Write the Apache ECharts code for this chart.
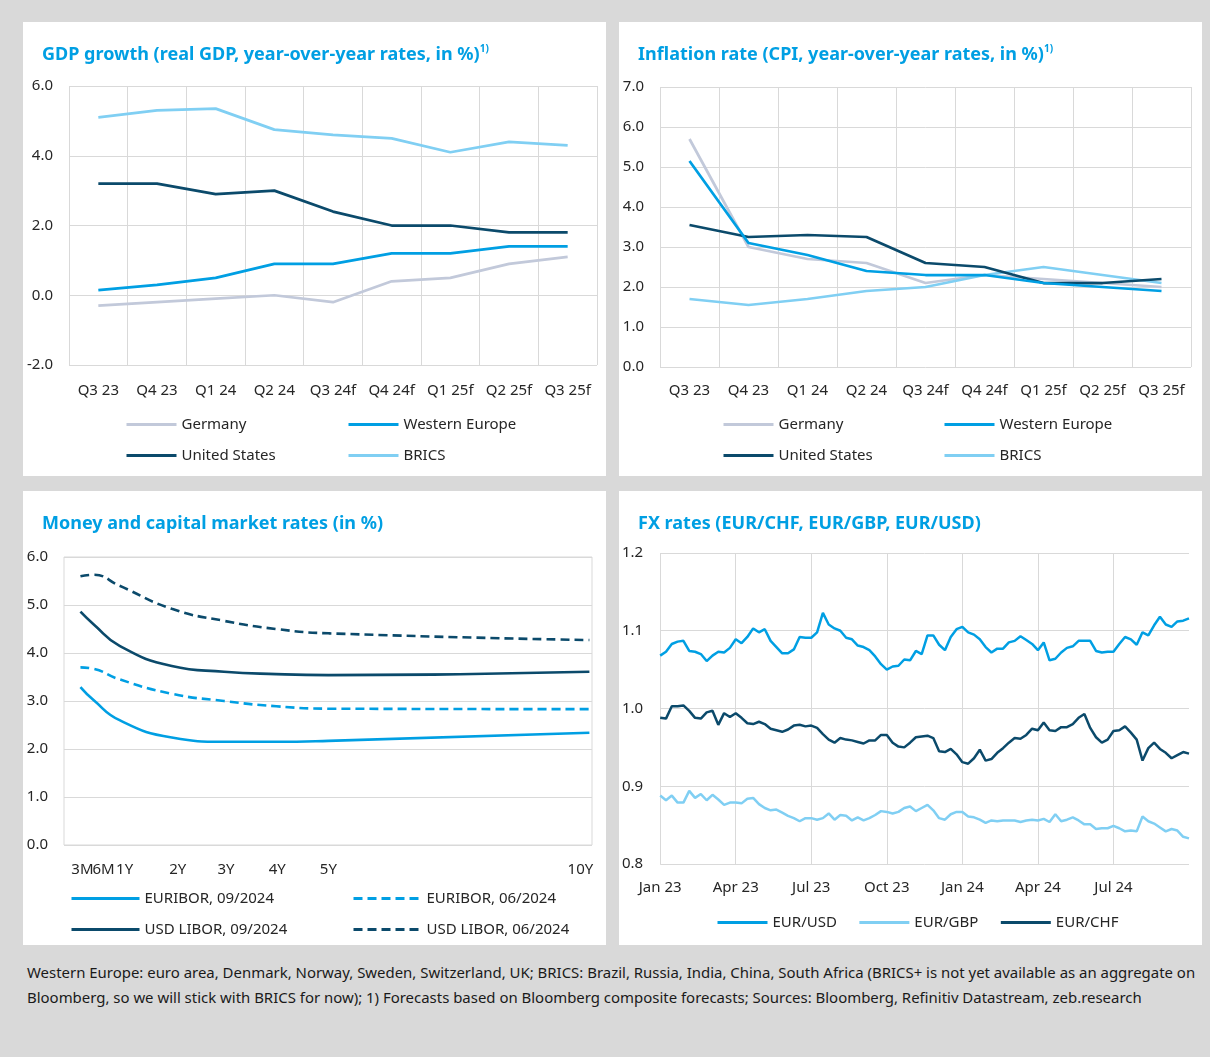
<!DOCTYPE html>
<html><head><meta charset="utf-8">
<script src="https://cdn.jsdelivr.net/npm/echarts@6.0.0/dist/echarts.min.js"></script>
<style>
html,body{margin:0;padding:0;background:#d9d9d9;width:1210px;height:1057px;overflow:hidden;}
.panel{position:absolute;background:#fff;width:583px;height:454px;}
#foot{position:absolute;left:27px;top:960px;font-family:'Noto Sans';font-size:14.95px;color:#1a1a1a;line-height:25px;white-space:nowrap;}
</style></head>
<body>
<div class="panel" id="p1" style="left:23px;top:22px;"></div>
<div class="panel" id="p2" style="left:619px;top:22px;"></div>
<div class="panel" id="p3" style="left:23px;top:491px;"></div>
<div class="panel" id="p4" style="left:619px;top:491px;"></div>
<div id="foot">Western Europe: euro area, Denmark, Norway, Sweden, Switzerland, UK; BRICS: Brazil, Russia, India, China, South Africa (BRICS+ is not yet available as an aggregate on<br>Bloomberg, so we will stick with BRICS for now); 1) Forecasts based on Bloomberg composite forecasts; Sources: Bloomberg, Refinitiv Datastream, zeb.research</div>
<script>
// ---------- DATA ----------
const quarterCategories = ['Q3 23','Q4 23','Q1 24','Q2 24','Q3 24f','Q4 24f','Q1 25f','Q2 25f','Q3 25f'];

const gdpGermany       = [-0.3,-0.2,-0.1,0.0,-0.2,0.4,0.5,0.9,1.1];
const gdpWesternEurope = [0.15,0.3,0.5,0.9,0.9,1.2,1.2,1.4,1.4];
const gdpUnitedStates  = [3.2,3.2,2.9,3.0,2.4,2.0,2.0,1.8,1.8];
const gdpBRICS         = [5.1,5.3,5.35,4.75,4.6,4.5,4.1,4.4,4.3];

const cpiGermany       = [5.7,3.0,2.7,2.6,2.1,2.3,2.2,2.1,2.0];
const cpiWesternEurope = [5.15,3.1,2.8,2.4,2.3,2.3,2.1,2.0,1.9];
const cpiUnitedStates  = [3.55,3.25,3.3,3.25,2.6,2.5,2.1,2.1,2.2];
const cpiBRICS         = [1.7,1.55,1.7,1.9,2.0,2.3,2.5,2.3,2.1];

const mmTenors      = [0.25,0.5,1,2,3,4,5,10];
const mmTenorLabels = ['3M','6M','1Y','2Y','3Y','4Y','5Y','10Y'];
const euribor092024  = [3.29,3.02,2.6,2.24,2.15,2.15,2.17,2.34];
const euribor062024  = [3.7,3.67,3.45,3.15,3.0,2.89,2.84,2.83];
const usdLibor092024 = [4.86,4.6,4.15,3.73,3.61,3.56,3.54,3.61];
const usdLibor062024 = [5.6,5.63,5.4,4.92,4.67,4.5,4.41,4.27];

const fxTickLabels = ['Jan 23','Apr 23','Jul 23','Oct 23','Jan 24','Apr 24','Jul 24'];
const fxStartDate = '2023-01-01'; // weekly observations
const fxEURUSD = [1.068,1.073,1.083,1.086,1.087,1.074,1.073,1.070,1.061,1.068,
  1.073,1.072,1.078,1.089,1.084,1.092,1.103,1.098,1.102,1.087,
  1.079,1.071,1.071,1.076,1.092,1.091,1.091,1.098,1.123,1.108,
  1.103,1.100,1.091,1.089,1.081,1.079,1.075,1.067,1.057,1.050,
  1.054,1.055,1.063,1.062,1.074,1.070,1.094,1.094,1.082,1.075,
  1.092,1.102,1.105,1.098,1.095,1.089,1.079,1.072,1.077,1.077,
  1.085,1.087,1.093,1.088,1.083,1.075,1.085,1.062,1.064,1.072,
  1.078,1.080,1.087,1.087,1.087,1.074,1.072,1.073,1.073,1.083,
  1.092,1.089,1.082,1.098,1.094,1.107,1.118,1.108,1.105,1.112,
  1.113,1.116];
const fxEURGBP = [0.888,0.882,0.888,0.879,0.879,0.894,0.885,0.890,0.882,0.889,
  0.883,0.876,0.879,0.879,0.878,0.884,0.885,0.877,0.872,0.869,
  0.870,0.866,0.862,0.859,0.855,0.859,0.859,0.857,0.859,0.865,
  0.857,0.863,0.862,0.856,0.860,0.856,0.859,0.863,0.868,0.867,
  0.865,0.867,0.872,0.874,0.868,0.872,0.876,0.869,0.859,0.857,
  0.864,0.867,0.867,0.861,0.860,0.857,0.853,0.856,0.855,0.856,
  0.856,0.856,0.854,0.856,0.857,0.856,0.858,0.854,0.864,0.855,
  0.857,0.860,0.856,0.851,0.851,0.845,0.846,0.846,0.849,0.846,
  0.842,0.843,0.842,0.861,0.855,0.852,0.847,0.842,0.845,0.843,
  0.835,0.833];
const fxEURCHF = [0.988,0.987,1.003,1.003,1.004,0.997,0.988,0.987,0.995,0.997,
  0.979,0.994,0.989,0.994,0.988,0.981,0.980,0.983,0.980,0.974,
  0.972,0.970,0.973,0.978,0.979,0.977,0.978,0.975,0.967,0.960,
  0.956,0.962,0.960,0.959,0.957,0.955,0.959,0.959,0.966,0.966,
  0.956,0.951,0.950,0.956,0.963,0.964,0.965,0.962,0.945,0.944,
  0.948,0.941,0.931,0.929,0.936,0.947,0.933,0.935,0.943,0.949,
  0.956,0.962,0.961,0.966,0.974,0.972,0.982,0.972,0.971,0.976,
  0.976,0.980,0.988,0.993,0.975,0.963,0.956,0.960,0.971,0.972,
  0.977,0.969,0.960,0.933,0.949,0.956,0.948,0.943,0.936,0.940,
  0.944,0.942];

// weekly date categories
const fxDates = [];
{
  const s = new Date(fxStartDate + 'T00:00:00Z');
  for (let i = 0; i < fxEURUSD.length; i++) {
    const d = new Date(s.getTime() + i * 7 * 86400000);
    fxDates.push(d.toISOString().slice(0, 10));
  }
}

// ---------- STYLE ----------
const FONT = 'Noto Sans';
const BLUE = '#009fe3';
const DARK = '#0b4a6b';
const LIGHT = '#80cff3';
const GREYBLUE = '#c2c9da';
const GRID = '#d9d9d9';
const TXT = '#262626';
const AX = {fontFamily: FONT, fontSize: 15, color: TXT};

function titleOpt(main, sup) {
  const rich = {
    t: {fontFamily: FONT, fontSize: 18, fontWeight: 'bold', color: BLUE, lineHeight: 22},
    s: {fontFamily: FONT, fontSize: 10, fontWeight: 'bold', color: BLUE, lineHeight: 12, verticalAlign: 'top'}
  };
  return {text: '{t|' + main + '}' + (sup ? '{s|' + sup + '}' : ''), left: 19, top: 22, padding: 0,
          textStyle: {rich: rich}};
}
function legendCol(left, top, data, w) {
  return {orient: 'vertical', left: left, top: top, data: data, itemWidth: w || 50, itemHeight: 14,
          itemGap: 16, padding: 0, selectedMode: false,
          textStyle: {fontFamily: FONT, fontSize: 15, color: TXT},
          itemStyle: {opacity: 0}, lineStyle: {width: 3}};
}
function line(name, data, color, dashed, w) {
  return {name: name, type: 'line', data: data, symbol: 'none', silent: true,
          lineStyle: {color: color, width: w || 2.75, type: dashed ? [9, 5] : 'solid'},
          itemStyle: {color: color}};
}
function quarterAxes(min, max, interval, labelMargin) {
  return {
    xAxis: {type: 'category', data: quarterCategories, boundaryGap: true,
            axisLine: {show: false}, axisTick: {show: false},
            splitLine: {show: true, interval: 0, lineStyle: {color: GRID, width: 1}},
            axisLabel: Object.assign({}, AX, {margin: labelMargin, interval: 0})},
    yAxis: {type: 'value', min: min, max: max, interval: interval,
            axisLine: {show: false}, axisTick: {show: false},
            splitLine: {lineStyle: {color: GRID, width: 1}},
            axisLabel: Object.assign({}, AX, {margin: 16, formatter: v => v.toFixed(1)})}
  };
}

// ---------- CHART 1: GDP ----------
const c1 = echarts.init(document.getElementById('p1'));
c1.setOption(Object.assign({
  animation: false,
  title: titleOpt('GDP growth (real GDP, year-over-year rates, in %)', '1)'),
  grid: {left: 46, top: 64, width: 528, height: 279},
  legend: [legendCol(102, 395, ['Germany', 'United States']), legendCol(324, 395, ['Western Europe', 'BRICS'])],
  series: [
    line('Germany', gdpGermany, GREYBLUE),
    line('Western Europe', gdpWesternEurope, BLUE),
    line('United States', gdpUnitedStates, DARK),
    line('BRICS', gdpBRICS, LIGHT)
  ]
}, quarterAxes(-2, 6, 2, 18)));

// ---------- CHART 2: Inflation ----------
const c2 = echarts.init(document.getElementById('p2'));
c2.setOption(Object.assign({
  animation: false,
  title: titleOpt('Inflation rate (CPI, year-over-year rates, in %)', '1)'),
  grid: {left: 41, top: 65, width: 531, height: 280},
  legend: [legendCol(103, 395, ['Germany', 'United States']), legendCol(324, 395, ['Western Europe', 'BRICS'])],
  series: [
    line('Germany', cpiGermany, GREYBLUE),
    line('BRICS', cpiBRICS, LIGHT),
    line('United States', cpiUnitedStates, DARK),
    line('Western Europe', cpiWesternEurope, BLUE)
  ]
}, quarterAxes(0, 7, 1, 16)));

// ---------- CHART 3: Money and capital market rates ----------
const MM_MIN = -0.065, MM_MAX = 10.05;
const mmShift = {'3M': 2, '6M': 10, '1Y': 5, '2Y': 6, '3Y': 2, '4Y': 1, '5Y': 0, '10Y': -9};
const mmRich = {};
mmTenorLabels.forEach((l, i) => {
  const s = mmShift[l];
  mmRich['k' + i] = {fontFamily: FONT, fontSize: 15, color: TXT,
                     padding: s >= 0 ? [0, 0, 0, 2 * s] : [0, -2 * s, 0, 0]};
});
function mmSeries(name, vals, color, dashed) {
  const s = line(name, vals.map((v, i) => [mmTenors[i], v]), color, dashed, 2.6);
  s.smooth = 0.5;
  return s;
}
const c3 = echarts.init(document.getElementById('p3'));
c3.setOption({
  animation: false,
  title: titleOpt('Money and capital market rates (in %)'),
  grid: {left: 41, top: 66, width: 528, height: 288, show: true, borderColor: GRID, borderWidth: 1},
  xAxis: {type: 'value', min: MM_MIN, max: MM_MAX,
          axisLine: {show: false}, axisTick: {show: false}, splitLine: {show: false},
          axisLabel: {customValues: [MM_MIN].concat(mmTenors), hideOverlap: false,
                      margin: 17, fontFamily: FONT, fontSize: 15, color: TXT,
                      formatter: v => {const i = mmTenors.indexOf(v); return i < 0 ? '' : '{k' + i + '|' + mmTenorLabels[i] + '}';},
                      rich: mmRich}},
  yAxis: {type: 'value', min: 0, max: 6, interval: 1,
          axisLine: {show: false}, axisTick: {show: false},
          splitLine: {lineStyle: {color: GRID, width: 1}},
          axisLabel: Object.assign({}, AX, {margin: 16, formatter: v => v.toFixed(1)})},
  legend: [legendCol(47, 400, ['EURIBOR, 09/2024', 'USD LIBOR, 09/2024'], 68),
           legendCol(329, 400, ['EURIBOR, 06/2024', 'USD LIBOR, 06/2024'], 68)],
  series: [
    mmSeries('EURIBOR, 09/2024', euribor092024, BLUE, false),
    mmSeries('EURIBOR, 06/2024', euribor062024, BLUE, true),
    mmSeries('USD LIBOR, 09/2024', usdLibor092024, DARK, false),
    mmSeries('USD LIBOR, 06/2024', usdLibor062024, DARK, true)
  ]
});

// ---------- CHART 4: FX ----------
const fxTickIdx = i => i % 13 === 0 && i / 13 < fxTickLabels.length;
const c4 = echarts.init(document.getElementById('p4'));
c4.setOption({
  animation: false,
  title: titleOpt('FX rates (EUR/CHF, EUR/GBP, EUR/USD)'),
  grid: {left: 41, top: 62, width: 529, height: 311},
  xAxis: {type: 'category', data: fxDates, boundaryGap: false,
          axisLine: {show: false}, axisTick: {show: false},
          splitLine: {show: true, interval: fxTickIdx, lineStyle: {color: GRID, width: 1}},
          axisLabel: Object.assign({}, AX, {margin: 16, interval: fxTickIdx,
                      formatter: v => fxTickLabels[fxDates.indexOf(v) / 13]})},
  yAxis: {type: 'value', min: 0.8, max: 1.2, interval: 0.1,
          axisLine: {show: false}, axisTick: {show: false},
          splitLine: {lineStyle: {color: GRID, width: 1}},
          axisLabel: Object.assign({}, AX, {margin: 17, formatter: v => v.toFixed(1)})},
  legend: {left: 97, top: 424, itemWidth: 50, itemHeight: 14, itemGap: 21, padding: 0, selectedMode: false,
           data: ['EUR/USD', 'EUR/GBP', 'EUR/CHF'],
           textStyle: {fontFamily: FONT, fontSize: 15, color: TXT},
           itemStyle: {opacity: 0}, lineStyle: {width: 3}},
  series: [
    line('EUR/USD', fxEURUSD, BLUE, false, 2.5),
    line('EUR/GBP', fxEURGBP, LIGHT, false, 2.5),
    line('EUR/CHF', fxEURCHF, DARK, false, 2.5)
  ]
});
</script>
</body></html>
